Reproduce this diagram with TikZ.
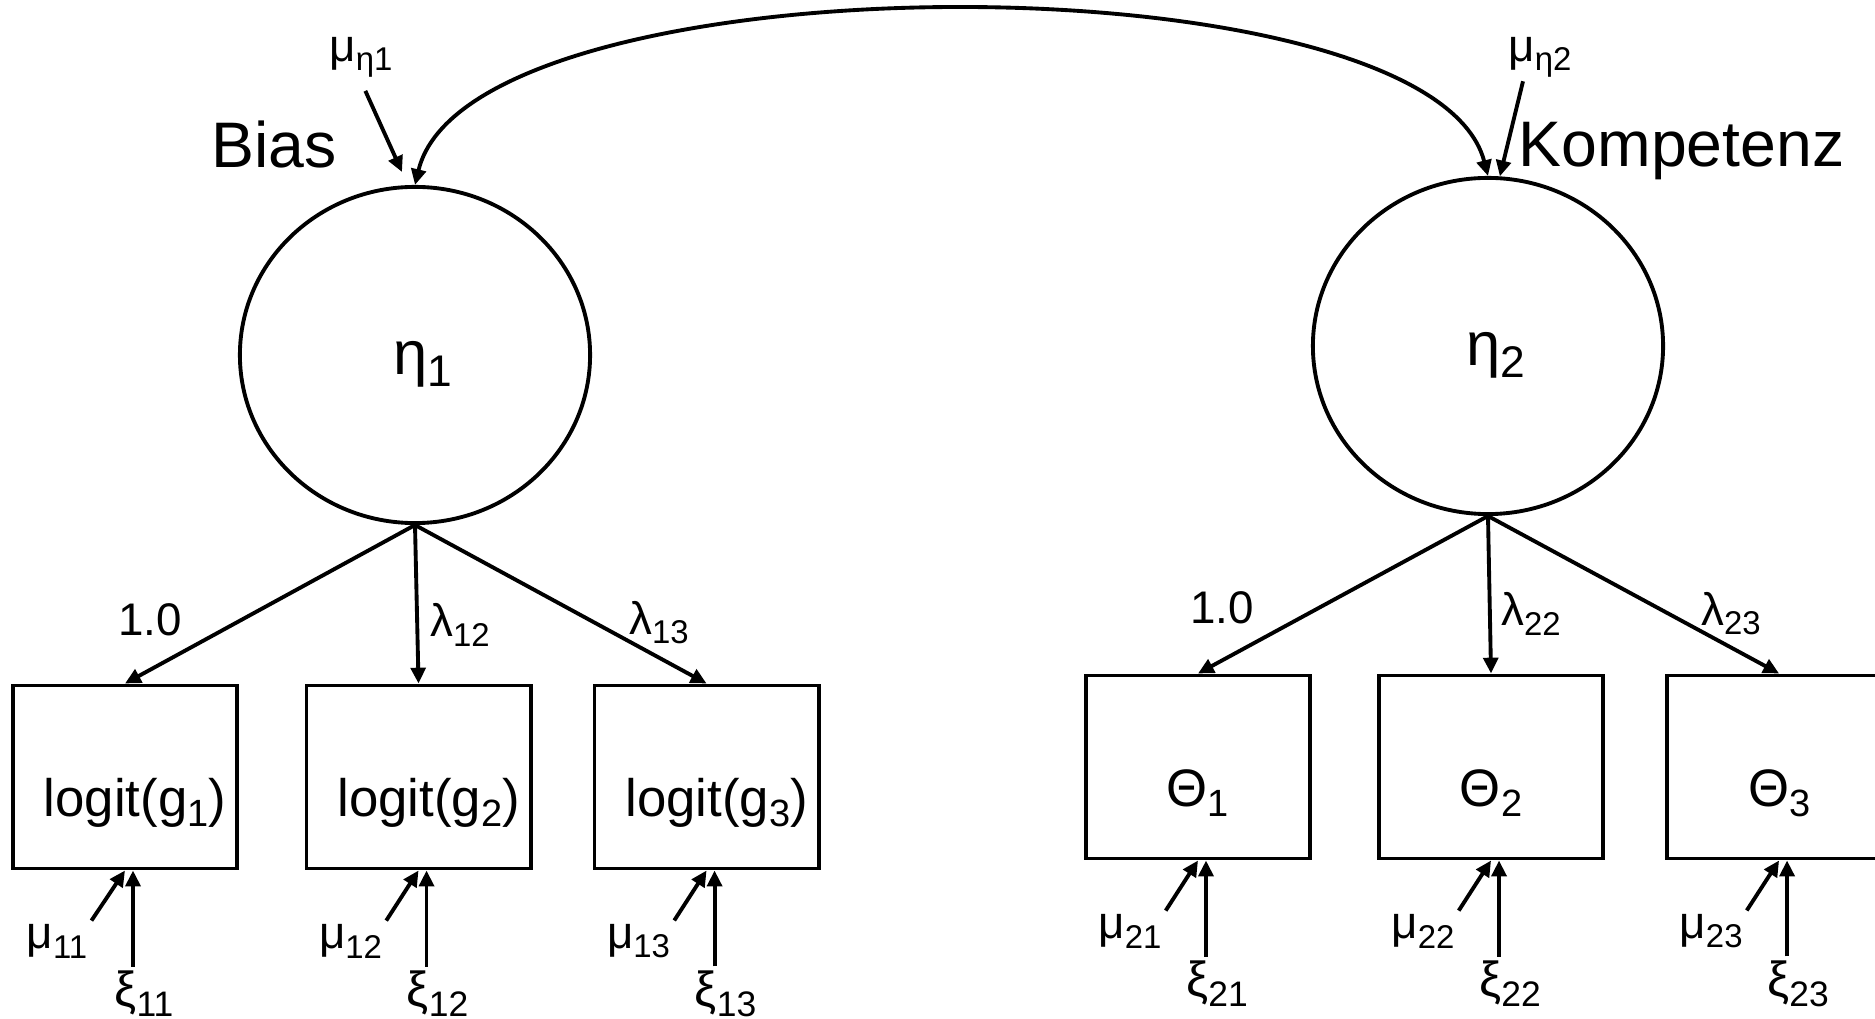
\documentclass[tikz,border=0pt]{standalone}
\usepackage{fontspec}
\setmainfont{Liberation Sans}
\usepackage{graphicx}
\usetikzlibrary{arrows.meta,positioning,shapes.geometric}
\newcommand\lowidx[1]{\raisebox{-0.2em}{\scalebox{0.72}{#1}}}

\begin{document}
\begin{tikzpicture}[x=0.01cm, y=0.01cm,
  box/.style={draw,line width=1.1pt,minimum width=2.24cm,minimum height=1.83cm,inner sep=0pt,text height=0.78cm,text depth=0pt,font=\fontsize{15}{18}\selectfont},
  lat/.style={draw,ellipse,line width=1.1pt,minimum width=3.5cm,minimum height=3.36cm,inner sep=0pt,text height=0.52cm,font=\fontsize{17.5}{20}\selectfont},
  head/.style={inner sep=0pt,font=\fontsize{18.3}{21}\selectfont},
  lab/.style={inner sep=1pt,font=\fontsize{13}{15}\selectfont},
  xilab/.style={inner sep=1pt,font=\fontsize{14}{16}\selectfont},
  arr/.style={-{Triangle[length=4.5pt,width=4.2pt]},line width=1.1pt},
  cov/.style={{Triangle[length=4.5pt,width=4.2pt]}-{Triangle[length=4.5pt,width=4.2pt]},line width=1.1pt}]
\useasboundingbox (0,0) rectangle (1875,-1019);
\clip (0,0) rectangle (1875,-1019);

% latent factors
\node[lat] (c1) at (415,-355) {\hspace{0.16cm}η\lowidx{1}};
\node[lat] (c2) at (1488,-346) {\hspace{0.16cm}η\lowidx{2}};
\node[head,anchor=base east] (bias) at (337,-168) {Bias};
\node[head,anchor=base west] (komp) at (1518,-167) {Kompetenz};
\node[lab] (mueta1) at (361,-57) {μ\lowidx{η1}};
\node[lab] (mueta2) at (1540,-57) {μ\lowidx{η2}};

% indicators
\node[box] (b11) at (125,-777) {\hspace{0.2cm}logit(g\lowidx{1})};
\node[box,right=0.655cm of b11] (b12) {\hspace{0.2cm}logit(g\lowidx{2})};
\node[box,right=0.6cm of b12] (b13) {\hspace{0.2cm}logit(g\lowidx{3})};
\node[box] (b21) at (1198,-767) {Θ\lowidx{1}};
\node[box,right=0.65cm of b21] (b22) {Θ\lowidx{2}};
\node[box,right=0.6cm of b22] (b23) {Θ\lowidx{3}};

% loadings
\node[lab] (l11) at (150,-620) {1.0};
\node[lab] (l12) at (460,-625) {λ\lowidx{12}};
\node[lab] (l13) at (659,-623) {λ\lowidx{13}};
\node[lab] (l21) at (1222,-608) {1.0};
\node[lab] (l22) at (1531,-614) {λ\lowidx{22}};
\node[lab] (l23) at (1731,-614) {λ\lowidx{23}};

\draw[arr] (c1.south) -- (b11.north); \draw[arr] (c1.south) -- (b12.north); \draw[arr] (c1.south) -- (b13.north);
\draw[arr] (c2.south) -- (b21.north); \draw[arr] (c2.south) -- (b22.north); \draw[arr] (c2.south) -- (b23.north);
\draw[arr,shorten <=3pt] (mueta1.south) -- ([shift={(-13,13)}]c1.north);
\draw[arr] (mueta2.235) -- (c2.86);
\draw[cov] (c1.north) .. controls (470,45) and (1430,47) .. (c2.north);

% intercepts and residuals
\foreach \i in {11,12,13,21,22,23}{
  \node[lab] (mu\i) at ([shift={(-68,-71)}]b\i.south) {μ\lowidx{\i}};
  \node[xilab] (xi\i) at ([shift={(19,-123)}]b\i.south) {ξ\lowidx{\i}};
  \coordinate (e\i) at ([shift={(8,0)}]b\i.south);
  \draw[arr] (mu\i.north east) -- (b\i.south);
  \draw[arr] (e\i |- xi\i.north) -- (e\i);
}
\end{tikzpicture}
\end{document}
